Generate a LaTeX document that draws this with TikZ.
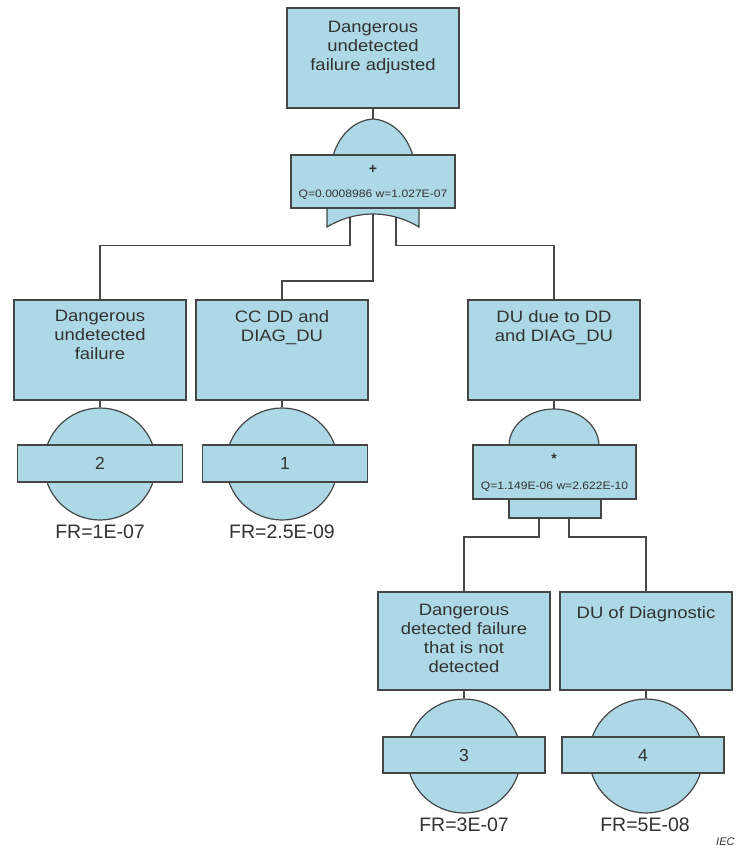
\documentclass[tikz,border=0pt]{standalone}
\usepackage{fontspec}
\setmainfont{Liberation Sans}
\newfontfamily\boxfont[FakeStretch=1.12]{Liberation Sans}
\definecolor{linec}{RGB}{70,70,70}
\definecolor{fillc}{RGB}{173,216,230}
\definecolor{txtc}{RGB}{50,50,50}
\begin{document}
\begin{tikzpicture}[x=1pt,y=-1pt,
  evbox/.style={rectangle, draw=linec, fill=fillc, line width=1.2pt, minimum width=172pt, minimum height=100pt, inner sep=0pt},
  btxt/.style={font=\boxfont\fontsize{16.5}{18.8}\selectfont, text=txtc, align=center, anchor=north, inner sep=0pt},
  gbox/.style={rectangle, draw=linec, fill=fillc, line width=1.2pt, minimum width=164pt, minimum height=53pt, inner sep=0pt},
  gshape/.style={draw=linec, fill=fillc, line width=1.2pt},
  gtxt/.style={font=\boxfont\fontsize{10.8}{12}\selectfont, text=txtc, inner sep=0pt},
  gsym/.style={font=\bfseries\fontsize{14}{15}\selectfont, text=txtc, inner sep=0pt},
  erect/.style={rectangle, draw=linec, fill=fillc, line width=1.2pt, minimum width=165pt, minimum height=37pt, inner sep=0pt, font=\fontsize{17.5}{20}\selectfont, text=txtc},
  ecirc/.style={circle, draw=linec, fill=fillc, line width=1.2pt, minimum size=112pt, inner sep=0pt},
  frtxt/.style={font=\fontsize{19.5}{22}\selectfont, text=txtc, inner sep=0pt},
  conn/.style={draw=linec, line width=1.2pt}
]
\useasboundingbox (0,0) rectangle (738,850);

% ---------- top event ----------
\node[evbox] (top) at (373,58) {};
\node[btxt] (topT) at ([yshift=-14pt]top.north) {Dangerous\\undetected\\failure adjusted};

% ---------- OR gate ----------
\coordinate (orTop) at (373,119);
\draw[gshape] (333,156) .. controls (340,132) and (357,120) .. (orTop)
  .. controls (389,120) and (406,132) .. (413,156) -- cycle;
\draw[gshape] (327,206) -- (327,227) .. controls (342,218) and (358,214) .. (373,214)
  .. controls (388,214) and (404,218) .. (419,227) -- (419,206) -- cycle;
\node[gbox] (orG) at (373,181.5) {};
\node[gsym] (orPlus) at (373,169) {+};
\node[gtxt] (orQ) at (373,195) {Q=0.0008986 w=1.027E-07};
\coordinate (orL) at (350,217.1);
\coordinate (orC) at (373,214);
\coordinate (orR) at (396,217.1);

% ---------- second level ----------
\node[evbox] (b1) at (100,350) {};
\node[btxt] (b1T) at ([yshift=-11pt]b1.north) {Dangerous\\undetected\\failure};
\node[evbox] (b2) at (282,350) {};
\node[btxt] (b2T) at ([yshift=-11pt]b2.north) {CC DD and\\DIAG\_DU};
\node[evbox] (b3) at (554,350) {};
\node[btxt] (b3T) at ([yshift=-11pt]b3.north) {DU due to DD\\and DIAG\_DU};

% basic events 2 and 1
\node[ecirc] (c1) at (100,464) {};
\node[erect] (r1) at (100,463.5) {2};
\node[frtxt] (f1) at (100,532) {FR=1E-07};
\node[ecirc] (c2) at (282,464) {};
\node[erect] (r2) at (285,463.5) {1};
\node[frtxt] (f2) at (282,532) {FR=2.5E-09};

% ---------- AND gate ----------
\coordinate (andTop) at (554,409);
\draw[gshape] (509,446) .. controls (509,425.1) and (529.1,409) .. (andTop)
  .. controls (578.9,409) and (599,425.1) .. (599,446) -- cycle;
\node[gbox, minimum width=163pt, minimum height=54pt] (andG) at (554.5,472) {};
\node[gshape, rectangle, minimum width=92pt, minimum height=19pt, inner sep=0pt] (andB) at (555,508.5) {};
\node[gsym] (andStar) at (554,459) {*};
\node[gtxt] (andQ) at (554.5,487) {Q=1.149E-06 w=2.622E-10};
\coordinate (andL) at (539,518);
\coordinate (andR) at (569,518);

% ---------- third level ----------
\node[evbox, minimum height=98pt] (b4) at (464,641) {};
\node[btxt] (b4T) at ([yshift=-13pt]b4.north) {Dangerous\\detected failure\\that is not\\detected};
\node[evbox, minimum height=98pt] (b5) at (646,641) {};
\node[btxt] (b5T) at ([yshift=-15pt]b5.north) {DU of Diagnostic};

\node[ecirc, minimum size=114pt] (c4) at (464,756) {};
\node[erect, minimum width=162pt, minimum height=36pt] (r4) at (464,755) {3};
\node[frtxt] (f4) at (464,825) {FR=3E-07};
\node[ecirc, minimum size=114pt] (c5) at (646,756) {};
\node[erect, minimum width=162pt, minimum height=36pt] (r5) at (643,755) {4};
\node[frtxt] (f5) at (645,825) {FR=5E-08};

\node[font=\itshape\fontsize{11}{13}\selectfont, text=txtc, anchor=west, inner sep=0pt] (iec) at (716,842) {IEC};

% ---------- connectors ----------
\draw[conn] (top.south) -- (orTop);
\draw[conn] (orL) -- ++(0,28) -| (b1.north);
\draw[conn] (orC) -- ++(0,67) -| (b2.north);
\draw[conn] (orR) -- ++(0,28) -| (b3.north);
\draw[conn] (b1.south) -- (c1.north);
\draw[conn] (b2.south) -- (c2.north);
\draw[conn] (b3.south) -- (andTop);
\draw[conn] (andL) -- ++(0,19) -| (b4.north);
\draw[conn] (andR) -- ++(0,19) -| (b5.north);
\draw[conn] (b4.south) -- (c4.north);
\draw[conn] (b5.south) -- (c5.north);
\end{tikzpicture}
\end{document}
